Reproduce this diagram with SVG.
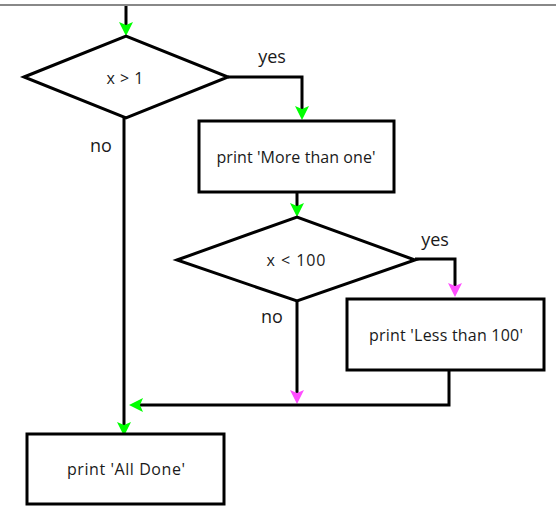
<svg xmlns="http://www.w3.org/2000/svg" width="556" height="506" viewBox="0 0 556 506">
  <style>
    .shape { fill: #ffffff; stroke: #000000; stroke-width: 3; stroke-linejoin: miter; }
    .conn { fill: none; stroke: #000000; stroke-width: 3; stroke-linejoin: miter; }
    .node-text { font-family: "Open Sans", "Liberation Sans", sans-serif; font-size: 16px; fill: #1a1a1a; text-anchor: middle; }
    .label { font-family: "Open Sans", "Liberation Sans", sans-serif; font-size: 18px; fill: #1a1a1a; text-anchor: middle; }
  </style>
  <defs>
    <marker id="arrow-green" markerUnits="userSpaceOnUse" markerWidth="14" markerHeight="14" viewBox="0 0 14 14" refX="6" refY="7" orient="auto">
      <path d="M0,0 L14,7 L0,14 L3,7 z" fill="#00ff00"/>
    </marker>
    <marker id="arrow-magenta" markerUnits="userSpaceOnUse" markerWidth="14" markerHeight="14" viewBox="0 0 14 14" refX="6" refY="7" orient="auto">
      <path d="M0,0 L14,7 L0,14 L3,7 z" fill="#ff4dff"/>
    </marker>
  </defs>

  <rect width="556" height="506" fill="#ffffff"/>
  <line x1="0" y1="5" x2="556" y2="5" stroke="#888888" stroke-width="2"/>

  <g id="connectors">
    <path class="conn" d="M126,6 V28" marker-end="url(#arrow-green)"/>
    <path class="conn" d="M228,77 H302 V112" marker-end="url(#arrow-green)"/>
    <path class="conn" d="M124,118 V428" marker-end="url(#arrow-green)"/>
    <path class="conn" d="M297,192 V209" marker-end="url(#arrow-green)"/>
    <path class="conn" d="M415,259 H455 V289" marker-end="url(#arrow-magenta)"/>
    <path class="conn" d="M297,301 V396" marker-end="url(#arrow-magenta)"/>
    <path class="conn" d="M449,370 V405 H137" marker-end="url(#arrow-green)"/>
    <text class="label" x="272" y="63">yes</text>
    <text class="label" x="101" y="152">no</text>
    <text class="label" x="435" y="246">yes</text>
    <text class="label" x="272" y="323">no</text>
  </g>

  <g id="decision-x-gt-1">
    <polygon class="shape" points="24,77 126,36 228,77 126,118"/>
    <text class="node-text" x="125" y="84" textLength="37">x &gt; 1</text>
  </g>

  <g id="print-more-than-one">
    <rect class="shape" x="199" y="121" width="195" height="71"/>
    <text class="node-text" x="296" y="163" textLength="159">print 'More than one'</text>
  </g>

  <g id="decision-x-lt-100">
    <polygon class="shape" points="177,260 297,217 415,260 297,301"/>
    <text class="node-text" x="296" y="266" textLength="59">x &lt; 100</text>
  </g>

  <g id="print-less-than-100">
    <rect class="shape" x="347" y="299" width="197" height="71"/>
    <text class="node-text" x="446" y="341" textLength="154">print 'Less than 100'</text>
  </g>

  <g id="print-all-done">
    <rect class="shape" x="27" y="434" width="197" height="70"/>
    <text class="node-text" x="126" y="475" textLength="118">print 'All Done'</text>
  </g>
</svg>
